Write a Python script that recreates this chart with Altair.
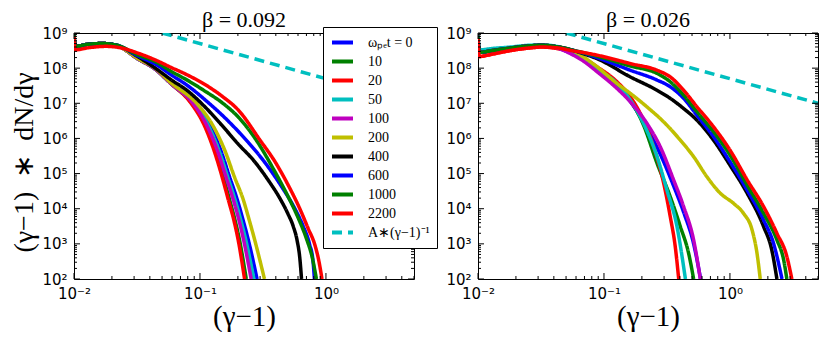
import altair as alt
import pandas as pd

# ---------------- labels / styling lists ----------------
SERIES = ["ωₚₑt = 0", "10", "20", "50", "100", "200", "400", "600", "1000", "2200"]
DASH_LABEL = "A∗(γ−1)⁻¹"
ALL_LABELS = SERIES + [DASH_LABEL]
COLORS = ["#0000ff", "#008000", "#ff0000", "#00bfbf", "#bf00bf", "#bfbf00",
          "#000000", "#0000ff", "#008000", "#ff0000", "#00bfbf"]
DASHES = [[1, 0]] * 10 + [[10, 6]]

PANEL_TITLES = ["β = 0.092", "β = 0.026"]
X_DOMAIN = [0.01, 5.0]
Y_DOMAIN = [1e2, 1e9]
X_MAJOR = [0.01, 0.1, 1.0]
Y_MAJOR = [1e2, 1e3, 1e4, 1e5, 1e6, 1e7, 1e8, 1e9]
X_MINOR = [m * d for d in (0.01, 0.1, 1.0) for m in range(2, 10) if m * d <= 5.0]
Y_MINOR = [m * d for d in (1e2, 1e3, 1e4, 1e5, 1e6, 1e7, 1e8) for m in range(2, 10)]

SERIF = "Liberation Serif"
SANS = "DejaVu Sans"

# ---------------- data ----------------
# x = (gamma-1), y given as log10 of (gamma-1)*dN/dgamma
LEFT = {
    "ωₚₑt = 0": ([0.0100, 0.0102, 0.013, 0.017, 0.022, 0.032, 0.045, 0.058, 0.090, 0.119, 0.146, 0.172, 0.198, 0.219, 0.242, 0.284],
                 [8.95, 8.62, 8.68, 8.70, 8.64, 8.27, 7.95, 7.58, 7.00, 6.38, 5.67, 4.90, 4.25, 3.70, 3.11, 2.00]),
    "10": ([0.0100, 0.0102, 0.013, 0.017, 0.022, 0.032, 0.045, 0.058, 0.086, 0.110, 0.131, 0.153, 0.172, 0.189, 0.206, 0.233],
           [8.95, 8.62, 8.68, 8.70, 8.64, 8.27, 7.95, 7.58, 7.00, 6.38, 5.67, 4.90, 4.25, 3.70, 3.11, 2.00]),
    "20": ([0.0100, 0.0102, 0.013, 0.017, 0.022, 0.032, 0.045, 0.058, 0.085, 0.108, 0.129, 0.150, 0.168, 0.185, 0.201, 0.226],
           [8.95, 8.62, 8.68, 8.70, 8.64, 8.27, 7.95, 7.58, 7.00, 6.38, 5.67, 4.90, 4.25, 3.70, 3.11, 2.00]),
    "50": ([0.0100, 0.0102, 0.013, 0.017, 0.022, 0.032, 0.045, 0.058, 0.089, 0.116, 0.141, 0.166, 0.190, 0.210, 0.231, 0.268],
           [8.95, 8.62, 8.68, 8.70, 8.64, 8.27, 7.95, 7.58, 7.00, 6.38, 5.67, 4.90, 4.25, 3.70, 3.11, 2.00]),
    "100": ([0.0100, 0.0102, 0.013, 0.017, 0.022, 0.032, 0.045, 0.058, 0.088, 0.113, 0.137, 0.161, 0.184, 0.203, 0.222, 0.255],
            [8.95, 8.62, 8.68, 8.70, 8.64, 8.27, 7.95, 7.58, 7.00, 6.38, 5.67, 4.90, 4.25, 3.70, 3.11, 2.00]),
    "200": ([0.0100, 0.0102, 0.013, 0.017, 0.022, 0.032, 0.045, 0.058, 0.094, 0.126, 0.157, 0.188, 0.221, 0.245, 0.272, 0.325],
            [8.95, 8.62, 8.68, 8.70, 8.64, 8.28, 7.97, 7.60, 7.00, 6.38, 5.67, 4.90, 4.25, 3.70, 3.11, 2.00]),
    "400": ([0.0100, 0.0102, 0.013, 0.017, 0.022, 0.032, 0.045, 0.059, 0.080, 0.108, 0.147, 0.200, 0.270, 0.350, 0.430, 0.500, 0.550, 0.590, 0.620, 0.640],
            [8.95, 8.62, 8.68, 8.70, 8.65, 8.33, 7.98, 7.67, 7.35, 6.92, 6.40, 5.85, 5.35, 4.80, 4.30, 3.85, 3.50, 3.10, 2.60, 2.00]),
    "600": ([0.0100, 0.0102, 0.013, 0.017, 0.022, 0.032, 0.045, 0.059, 0.080, 0.108, 0.167, 0.240, 0.330, 0.450, 0.567, 0.660, 0.740, 0.790, 0.810],
            [8.95, 8.62, 8.68, 8.70, 8.65, 8.35, 8.10, 7.81, 7.50, 7.12, 6.50, 5.90, 5.30, 4.60, 4.00, 3.50, 3.00, 2.50, 2.00]),
    "1000": ([0.0100, 0.0102, 0.013, 0.017, 0.022, 0.032, 0.045, 0.059, 0.080, 0.108, 0.152, 0.200, 0.280, 0.380, 0.500, 0.600, 0.700, 0.780, 0.840],
             [8.95, 8.62, 8.68, 8.70, 8.65, 8.38, 8.17, 7.91, 7.65, 7.36, 7.00, 6.62, 5.95, 5.15, 4.35, 3.75, 3.15, 2.60, 2.00]),
    "2200": ([0.0100, 0.0102, 0.013, 0.018, 0.024, 0.032, 0.045, 0.059, 0.080, 0.102, 0.150, 0.200, 0.300, 0.400, 0.500, 0.620, 0.720, 0.820, 0.880, 0.930],
             [8.90, 8.52, 8.58, 8.62, 8.57, 8.43, 8.22, 8.02, 7.80, 7.60, 7.20, 6.82, 5.95, 5.30, 4.68, 4.00, 3.45, 2.95, 2.50, 2.00]),
}

RIGHT = {
    "ωₚₑt = 0": ([0.0100, 0.0102, 0.013, 0.018, 0.025, 0.032, 0.042, 0.055, 0.070, 0.088, 0.127, 0.162, 0.219, 0.280, 0.357, 0.429, 0.515, 0.585],
                 [8.92, 8.45, 8.50, 8.57, 8.63, 8.65, 8.58, 8.42, 8.22, 7.95, 7.50, 7.05, 6.30, 5.55, 4.65, 3.90, 3.00, 2.00]),
    "10": ([0.0100, 0.0102, 0.013, 0.018, 0.025, 0.032, 0.042, 0.055, 0.070, 0.088, 0.127, 0.162, 0.206, 0.264, 0.336, 0.404, 0.470, 0.515],
           [8.92, 8.45, 8.50, 8.57, 8.63, 8.65, 8.60, 8.48, 8.27, 7.99, 7.56, 7.09, 6.38, 5.29, 4.34, 3.49, 2.73, 2.00]),
    "20": ([0.0100, 0.0102, 0.013, 0.018, 0.025, 0.032, 0.042, 0.055, 0.070, 0.088, 0.127, 0.162, 0.206, 0.248, 0.298, 0.336, 0.368, 0.392],
           [8.85, 8.33, 8.40, 8.50, 8.57, 8.60, 8.56, 8.46, 8.27, 8.04, 7.61, 7.18, 6.52, 5.76, 4.72, 3.77, 2.92, 2.00]),
    "50": ([0.0100, 0.0102, 0.013, 0.018, 0.025, 0.032, 0.042, 0.055, 0.070, 0.088, 0.127, 0.162, 0.206, 0.264, 0.316, 0.380, 0.443],
           [8.95, 8.52, 8.56, 8.60, 8.65, 8.66, 8.62, 8.50, 8.28, 7.99, 7.56, 7.09, 6.43, 5.48, 4.53, 3.49, 2.00]),
    "100": ([0.0100, 0.0102, 0.013, 0.018, 0.025, 0.032, 0.042, 0.055, 0.070, 0.088, 0.127, 0.162, 0.219, 0.280, 0.357, 0.429, 0.515, 0.582],
            [8.92, 8.45, 8.50, 8.57, 8.63, 8.65, 8.58, 8.40, 8.18, 7.90, 7.42, 7.04, 6.43, 5.76, 4.82, 4.06, 3.11, 2.00]),
    "200": ([0.0100, 0.0102, 0.013, 0.018, 0.025, 0.032, 0.042, 0.055, 0.070, 0.088, 0.127, 0.162, 0.219, 0.298, 0.404, 0.515, 0.656, 0.838, 1.07, 1.28, 1.50, 1.64, 1.74],
            [8.92, 8.45, 8.50, 8.57, 8.63, 8.65, 8.61, 8.52, 8.30, 8.04, 7.56, 7.28, 6.90, 6.47, 5.95, 5.48, 4.91, 4.44, 4.15, 3.87, 3.39, 2.73, 2.00]),
    "400": ([0.0100, 0.0102, 0.013, 0.018, 0.025, 0.032, 0.042, 0.055, 0.070, 0.088, 0.162, 0.264, 0.336, 0.429, 0.547, 0.741, 1.00, 1.37, 1.85, 2.15, 2.36],
            [8.92, 8.45, 8.50, 8.57, 8.63, 8.65, 8.61, 8.52, 8.40, 8.27, 7.75, 7.37, 7.14, 6.85, 6.52, 5.95, 5.24, 4.44, 3.49, 2.82, 2.00]),
    "600": ([0.0100, 0.0102, 0.013, 0.018, 0.025, 0.032, 0.042, 0.055, 0.070, 0.088, 0.162, 0.264, 0.336, 0.429, 0.547, 0.741, 1.00, 1.37, 1.85, 2.22, 2.59],
            [8.92, 8.45, 8.50, 8.57, 8.63, 8.65, 8.61, 8.52, 8.42, 8.30, 7.94, 7.66, 7.47, 7.14, 6.66, 6.05, 5.34, 4.53, 3.68, 3.01, 2.00]),
    "1000": ([0.0100, 0.0102, 0.013, 0.018, 0.025, 0.032, 0.042, 0.055, 0.070, 0.088, 0.162, 0.264, 0.336, 0.429, 0.547, 0.741, 1.00, 1.37, 1.85, 2.36, 2.67, 2.83],
             [8.92, 8.45, 8.50, 8.57, 8.63, 8.65, 8.61, 8.52, 8.43, 8.34, 8.06, 7.85, 7.61, 7.23, 6.76, 6.19, 5.53, 4.67, 3.87, 3.11, 2.54, 2.00]),
    "2200": ([0.0100, 0.0102, 0.013, 0.018, 0.025, 0.032, 0.042, 0.055, 0.070, 0.088, 0.162, 0.264, 0.336, 0.429, 0.547, 0.741, 1.00, 1.37, 1.85, 2.36, 2.83, 3.10],
             [8.85, 8.33, 8.40, 8.50, 8.57, 8.60, 8.58, 8.50, 8.44, 8.37, 8.13, 7.94, 7.75, 7.37, 6.90, 6.33, 5.67, 4.82, 4.06, 3.30, 2.64, 2.00]),
}

# reference power law A*(gamma-1)^-1, end points
DASH_X = [0.05, 5.0]
DASH_Y = [1e9, 1e7]


def panel_frame(curves):
    rows = []
    for name in SERIES:
        xs, logy = curves[name]
        for x, ly in zip(xs, logy):
            rows.append({"series": name, "x": x, "y": 10 ** ly})
    for x, y in zip(DASH_X, DASH_Y):
        rows.append({"series": DASH_LABEL, "x": x, "y": y})
    return pd.DataFrame(rows)


W, H = 340, 246
EXP = "round(log(datum.value)/LN10)"
LABEL_EXPR = ("'10' + (" + EXP + " < 0 ? '⁻' : '') + "
              "['⁰','¹','²','³','⁴','⁵','⁶','⁷','⁸','⁹'][abs(" + EXP + ")]")

xscale = alt.Scale(type="log", domain=X_DOMAIN, nice=False)
yscale = alt.Scale(type="log", domain=Y_DOMAIN, nice=False)

xaxis = alt.Axis(values=X_MAJOR, labelExpr=LABEL_EXPR, ticks=False, domain=False, grid=False,
                 labelFont=SANS, labelFontSize=15, labelColor="black",
                 labelPadding=7, labelFlush=False, labelOverlap=False,
                 title="(γ−1)", titleFont=SERIF, titleFontSize=29,
                 titleFontWeight="normal", titleColor="black", titlePadding=1)


def yaxis(with_title):
    kw = dict(values=Y_MAJOR, labelExpr=LABEL_EXPR, ticks=False, domain=False, grid=False,
              labelFont=SANS, labelFontSize=15, labelColor="black",
              labelPadding=7, labelFlush=False, labelOverlap=False)
    if with_title:
        kw.update(title="(γ−1)\u2002∗\u2002dN/dγ", titleFont=SERIF, titleFontSize=28,
                  titleFontWeight="normal", titleColor="black", titlePadding=3,
                  titleAngle=270, titleAlign="center", titleAnchor="middle", titleY=H / 2 + 6)
    else:
        kw.update(title=None)
    return alt.Axis(**kw)


legend = alt.Legend(title=None, orient="none", legendX=249, legendY=-6,
                    fillColor="white", strokeColor="black", padding=7, cornerRadius=0,
                    symbolType="stroke", symbolSize=441, symbolStrokeWidth=4,
                    labelFont=SERIF, labelFontSize=14, labelColor="black",
                    labelOffset=13, rowPadding=2, clipHeight=17.0,
                    labelLimit=0, symbolLimit=0)

cscale = alt.Scale(domain=ALL_LABELS, range=COLORS)
dscale = alt.Scale(domain=ALL_LABELS, range=DASHES)


def make_panel(curves, title, with_ytitle):
    ya = yaxis(with_ytitle)
    df = panel_frame(curves)
    lines = alt.Chart(df).mark_line(strokeWidth=3.5, clip=True, interpolate="monotone",
                                    strokeCap="butt").encode(
        x=alt.X("x:Q", scale=xscale, axis=xaxis),
        y=alt.Y("y:Q", scale=yscale, axis=ya),
        color=alt.Color("series:N", scale=cscale, legend=legend),
        strokeDash=alt.StrokeDash("series:N", scale=dscale, legend=legend),
    )
    layers = [lines]
    for vals, size in ((X_MAJOR, 6), (X_MINOR, 3)):
        tdf = pd.DataFrame({"x": vals})
        for y0, y1 in ((0, size), (H, H - size)):
            layers.append(alt.Chart(tdf).mark_rule(color="black", strokeWidth=1).encode(
                x=alt.X("x:Q", scale=xscale, axis=xaxis),
                y=alt.value(y0), y2=alt.value(y1)))
    for vals, size in ((Y_MAJOR, 6), (Y_MINOR, 3)):
        tdf = pd.DataFrame({"y": vals})
        for x0, x1 in ((0, size), (W, W - size)):
            layers.append(alt.Chart(tdf).mark_rule(color="black", strokeWidth=1).encode(
                y=alt.Y("y:Q", scale=yscale, axis=ya),
                x=alt.value(x0), x2=alt.value(x1)))
    return alt.layer(*layers).properties(
        width=W, height=H,
        title=alt.Title(title, font=SERIF, fontSize=22, fontWeight="normal",
                        color="black", offset=-6, frame="group"))


chart = alt.hconcat(
    make_panel(LEFT, PANEL_TITLES[0], True),
    make_panel(RIGHT, PANEL_TITLES[1], False),
    spacing=30,
).properties(padding={"left": 2, "top": 0, "right": 0, "bottom": 0}).configure_view(
    stroke="black", strokeWidth=1).configure_title(font=SERIF)

chart.save("out.html", embed_options={"renderer": "svg", "actions": False})
